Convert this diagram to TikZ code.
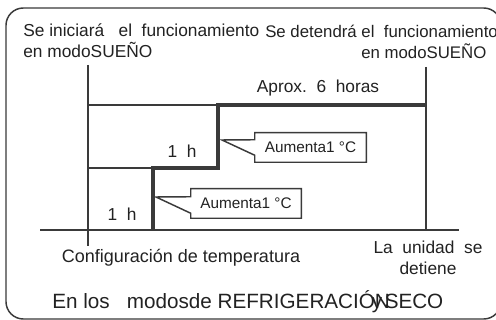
\documentclass[tikz,border=0pt]{standalone}
\usepackage{fontspec}
\setmainfont{Liberation Sans}
\usetikzlibrary{calc}
\definecolor{ink}{HTML}{222222}
\definecolor{rule}{HTML}{3A3A3A}
\tikzset{
  every node/.style={text=ink},
  lbl/.style={font=\fontsize{13}{15.8}\selectfont,inner sep=0pt},
  biglbl/.style={font=\fontsize{15.5}{18}\selectfont,inner sep=0pt},
  calltext/.style={font=\fontsize{11.5}{13}\selectfont,inner sep=0pt,minimum height=21.75pt},
  thinline/.style={draw=rule,line width=1.1pt},
  thickline/.style={draw=rule,line width=2.4pt,line join=miter},
  callline/.style={draw=rule,line width=1.1pt,line join=miter},
  frame/.style={draw=rule,line width=1.1pt,rounded corners=13pt},
}

\begin{document}
\begin{tikzpicture}[x=0.75pt,y=-0.75pt]
\useasboundingbox (0,0) rectangle (496,320);
\fill[white] (0,0) rectangle (496,320);
\draw[frame] (6,8) rectangle (501,319);

% top labels
\node[lbl,anchor=west,align=left] (start) at (23,40.5) {Se iniciará\ \ \ el\ \ funcionamiento\\en\ modoSUEÑO};
\node[lbl,font=\fontsize{12.6}{15.8}\selectfont,anchor=west,align=left] (stop) at (265,41.5) {Se detendrá el\ \ funcionamiento\\\hspace*{72pt}en modoSUEÑO};

% axes and time marks
\coordinate (o) at (88,230);
\draw[thinline] (88,65) -- (88,246);
\draw[thinline] (40,230) -- (459,230);
\draw[thinline] (426,67) -- (426,230);
\draw[thinline] (88,105) -- (218,105);
\draw[thinline] (88,168) -- (153,168);

% setpoint steps
\draw[thickline] (426,105) -- (218,105) -- (218,168) -- (153,168) -- (153,230);

\node[lbl] (six) at (318,88) {Aprox.\ \ 6\ \ horas};
\node[lbl] (h2) at (182,151) {1\ \ h};
\node[lbl] (h1) at (122,214) {1\ \ h};

% callouts
\node[calltext,minimum width=83.25pt] (up) at (310.5,147.5) {Aumenta1 °C};
\coordinate (uptip) at (222,140);
\draw[callline] ($(up.north west)+(0,7)$) -- (up.north west) -- (up.north east) -- (up.south east) -- (up.south west) -- ($(up.south west)+(0,-7)$) -- (uptip) -- cycle;

\node[calltext,minimum width=82.5pt] (low) at (246,203.5) {Aumenta1 °C};
\coordinate (lowtip) at (156,197);
\draw[callline] ($(low.north west)+(0,8)$) -- (low.north west) -- (low.north east) -- (low.south east) -- (low.south west) -- ($(low.south west)+(0,-5)$) -- (lowtip) -- cycle;

% axis labels
\node[lbl,font=\fontsize{13.5}{16}\selectfont] (conf) at (181,258) {Configuración de\ temperatura};
\node[lbl,align=center] (end) at (428,257.5) {La\ \ unidad\ \ se\\detiene};

\node[biglbl,anchor=west] (modes) at (52,302) {En los\ \ \ modosde REFRIGERACIÓ\kern-0.15em\rlap{y}\kern0.15em N\kern-0.25em SECO};
\end{tikzpicture}
\end{document}
